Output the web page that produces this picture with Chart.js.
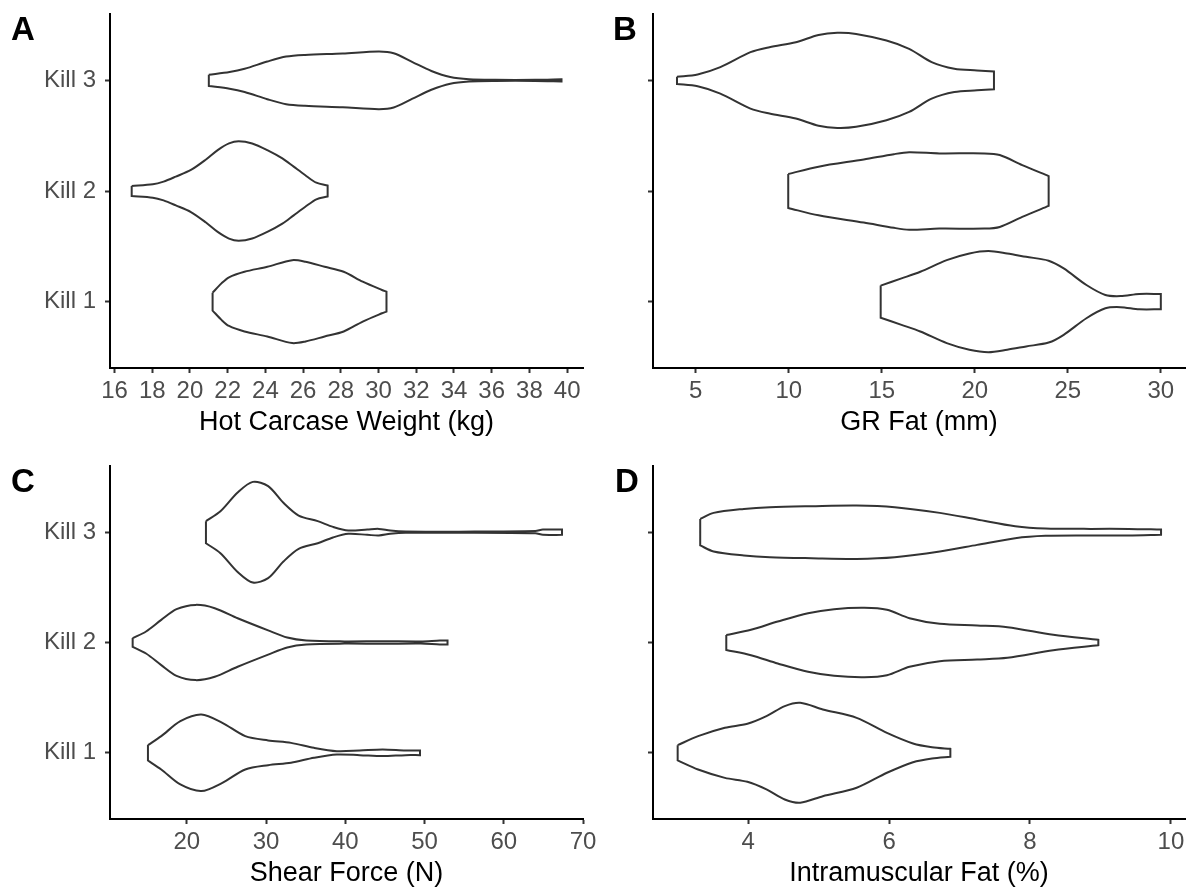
<!DOCTYPE html>
<html><head><meta charset="utf-8">
<script src="https://cdn.jsdelivr.net/npm/chart.js@4.4.1/dist/chart.umd.min.js"></script>
<style>
html,body{margin:0;padding:0;background:#fff;}
body{width:1193px;height:890px;position:relative;overflow:hidden;}
.panel{position:absolute;}
canvas{display:block;}
</style></head><body>
<div class="panel" style="left:0;top:0;width:596px;height:445px"><canvas id="cA" width="596" height="445"></canvas></div>
<div class="panel" style="left:596px;top:0;width:597px;height:445px"><canvas id="cB" width="597" height="445"></canvas></div>
<div class="panel" style="left:0;top:445px;width:596px;height:445px"><canvas id="cC" width="596" height="445"></canvas></div>
<div class="panel" style="left:596px;top:445px;width:597px;height:445px"><canvas id="cD" width="597" height="445"></canvas></div>
<script>
// ---- category labels ----
const killLabels = ['Kill 1', 'Kill 2', 'Kill 3'];

// ---- A: Hot Carcase Weight (kg) : value positions and violin half-widths ----
const hcwK1X = [21.2, 21.67, 22.07, 22.89, 24.1, 25.42, 26.13, 27.14, 28.15, 29.16, 30.18, 30.42];
const hcwK1W = [0.081, 0.165, 0.22, 0.27, 0.315, 0.375, 0.36, 0.315, 0.27, 0.18, 0.105, 0.09];
const hcwK2X = [16.91, 18.03, 18.6, 19.25, 20.05, 20.85, 21.47, 22.07, 22.58, 23.3, 24.1, 24.9, 25.5, 26.1, 26.7, 27.3];
const hcwK2W = [0.045, 0.06, 0.085, 0.13, 0.19, 0.285, 0.37, 0.43, 0.45, 0.43, 0.37, 0.295, 0.22, 0.145, 0.075, 0.05];
const hcwK3X = [21.0, 22.1, 22.9, 24.1, 25.1, 26.1, 28.1, 30.0, 30.8, 31.8, 32.8, 33.8, 34.8, 36.2, 38.3, 39.7];
const hcwK3W = [0.05, 0.075, 0.105, 0.17, 0.215, 0.23, 0.243, 0.26, 0.245, 0.165, 0.085, 0.03, 0.01, 0.005, 0.005, 0.01];
const hcwTicks = [16, 18, 20, 22, 24, 26, 28, 30, 32, 34, 36, 38, 40];

// ---- B: GR Fat (mm) ----
const grK1X = [14.94, 16.06, 17.07, 18.49, 19.71, 20.73, 21.74, 22.76, 23.97, 24.78, 26.0, 27.02, 27.83, 28.84, 30.0];
const grK1W = [0.145, 0.21, 0.27, 0.375, 0.435, 0.457, 0.435, 0.405, 0.37, 0.3, 0.15, 0.06, 0.05, 0.069, 0.069];
const grK2X = [9.97, 11.6, 14.03, 15.65, 16.47, 18.09, 20.52, 21.34, 22.55, 23.97];
const grK2W = [0.153, 0.22, 0.285, 0.333, 0.35, 0.34, 0.34, 0.325, 0.234, 0.135];
const grK3X = [3.99, 5.1, 6.32, 7.94, 8.96, 10.38, 11.6, 12.61, 13.62, 15.25, 16.47, 17.68, 18.9, 20.12, 21.03];
const grK3W = [0.033, 0.054, 0.12, 0.255, 0.3, 0.345, 0.41, 0.43, 0.42, 0.36, 0.285, 0.165, 0.105, 0.09, 0.08];
const grTicks = [5, 10, 15, 20, 25, 30];

// ---- C: Shear Force (N) ----
const sfK1X = [15.09, 16.77, 19.18, 21.83, 24.48, 27.37, 30.26, 33.15, 36.04, 38.93, 41.82, 44.71, 47.6, 49.43];
const sfK1W = [0.07, 0.151, 0.287, 0.347, 0.272, 0.151, 0.112, 0.09, 0.045, 0.015, 0.021, 0.03, 0.021, 0.021];
const sfK2X = [13.16, 14.85, 16.77, 18.7, 21.11, 23.52, 26.41, 30.26, 32.67, 35.08, 39.89, 44.71, 49.53, 51.94, 52.9];
const sfK2W = [0.04, 0.1, 0.205, 0.302, 0.341, 0.311, 0.22, 0.11, 0.045, 0.018, 0.01, 0.012, 0.01, 0.018, 0.018];
const sfK3X = [22.41, 24.24, 26.41, 28.33, 30.26, 32.19, 34.11, 36.52, 38.45, 40.38, 42.78, 44.23, 45.67, 47.6, 54.34, 63.98, 64.94, 67.35];
const sfK3W = [0.1, 0.19, 0.36, 0.456, 0.417, 0.266, 0.151, 0.1, 0.048, 0.015, 0.024, 0.03, 0.015, 0.006, 0.005, 0.01, 0.024, 0.024];
const sfTicks = [20, 30, 40, 50, 60, 70];

// ---- D: Intramuscular Fat (%) ----
const imfK1X = [3.0, 3.29, 3.67, 3.99, 4.26, 4.52, 4.74, 5.06, 5.54, 5.97, 6.34, 6.61, 6.87];
const imfK1W = [0.069, 0.151, 0.227, 0.263, 0.332, 0.423, 0.453, 0.393, 0.317, 0.181, 0.085, 0.051, 0.036];
const imfK2X = [3.69, 4.04, 4.42, 4.85, 5.22, 5.65, 5.97, 6.29, 6.72, 7.25, 7.68, 8.33, 8.97];
const imfK2W = [0.068, 0.115, 0.19, 0.266, 0.302, 0.314, 0.296, 0.22, 0.169, 0.154, 0.139, 0.07, 0.024];
const imfK3X = [3.32, 3.51, 3.94, 4.31, 4.9, 5.54, 6.08, 6.72, 7.25, 7.79, 8.22, 8.86, 9.4, 9.86];
const imfK3W = [0.12, 0.175, 0.211, 0.227, 0.236, 0.242, 0.227, 0.175, 0.115, 0.054, 0.033, 0.03, 0.03, 0.024];
const imfTicks = [4, 6, 8, 10];

const FONT = '"Liberation Sans", Arial, Helvetica, sans-serif';

// closed violin outline from value positions and half-widths around category k
function outline(xs, ws, k) {
  const pts = [];
  const n = xs.length;
  pts.push({x: xs[0], y: k + ws[0]});
  for (let i = 0; i < n; i++) pts.push({x: xs[i], y: k + ws[i]});
  pts.push({x: xs[n - 1], y: k + ws[n - 1]});
  pts.push({x: xs[n - 1], y: k - ws[n - 1]});
  for (let i = n - 1; i >= 0; i--) pts.push({x: xs[i], y: k - ws[i]});
  pts.push({x: xs[0], y: k - ws[0]});
  pts.push({x: xs[0], y: k + ws[0]});
  return pts;
}

const letterPlugin = {
  id: 'letter',
  afterDraw(chart, args, opts) {
    const ctx = chart.ctx;
    ctx.save();
    ctx.font = 'bold 33px ' + FONT;
    ctx.fillStyle = '#000';
    ctx.textBaseline = 'alphabetic';
    ctx.textAlign = 'left';
    ctx.fillText(opts.text, opts.x, opts.y);
    ctx.restore();
  }
};

function makePanel(p) {
  const datasets = p.violins.map((v, i) => ({
    data: outline(v[0], v[1], i + 1),
    showLine: true,
    borderColor: '#333333',
    borderWidth: 2,
    pointRadius: 0,
    pointHoverRadius: 0,
    fill: false,
    tension: 0.3
  }));
  new Chart(document.getElementById(p.id), {
    type: 'scatter',
    data: {datasets},
    plugins: [letterPlugin],
    options: {
      responsive: false,
      animation: false,
      events: [],
      layout: {padding: {left: 0, right: p.padR, top: p.padT, bottom: p.padB}},
      plugins: {
        legend: {display: false},
        tooltip: {enabled: false},
        letter: {text: p.letter, x: p.lx, y: p.ly}
      },
      scales: {
        x: {
          type: 'linear',
          min: p.xmin, max: p.xmax,
          afterBuildTicks: s => { s.ticks = p.ticks.map(v => ({value: v})); },
          afterFit: s => { s.height = p.xh; s.paddingLeft = 0; s.paddingRight = 0; },
          ticks: {
            color: '#4d4d4d', padding: 4, maxRotation: 0, autoSkip: false,
            font: {family: FONT, size: 24},
            callback: v => String(v)
          },
          grid: {display: true, drawOnChartArea: false, drawTicks: true, tickLength: 5, tickColor: '#333333', tickWidth: 2},
          border: {display: true, color: '#000000', width: 2},
          title: {display: true, text: p.title, color: '#000000', font: {family: FONT, size: 27}, padding: {top: 0, bottom: 0}}
        },
        y: {
          type: 'linear',
          min: 0.4, max: 3.6,
          afterBuildTicks: s => { s.ticks = [1, 2, 3].map(v => ({value: v})); },
          afterFit: s => { s.width = p.yw; s.paddingTop = 0; s.paddingBottom = 0; },
          ticks: {
            color: '#4d4d4d', padding: 9, autoSkip: false,
            font: {family: FONT, size: 24},
            callback: v => p.showY ? killLabels[Math.round(v) - 1] : ''
          },
          grid: {display: true, drawOnChartArea: false, drawTicks: true, tickLength: 5, tickColor: '#333333', tickWidth: 2},
          border: {display: true, color: '#000000', width: 2}
        }
      }
    }
  });
}

makePanel({id: 'cA', letter: 'A', lx: 11, ly: 40, showY: true, yw: 110, padR: 13, padT: 14, padB: 6, xh: 71,
  xmin: 15.76, xmax: 40.84, ticks: hcwTicks, title: 'Hot Carcase Weight (kg)',
  violins: [[hcwK1X, hcwK1W], [hcwK2X, hcwK2W], [hcwK3X, hcwK3W]]});
makePanel({id: 'cB', letter: 'B', lx: 17, ly: 40, showY: false, yw: 57, padR: 8, padT: 14, padB: 6, xh: 71,
  xmin: 2.7, xmax: 31.3, ticks: grTicks, title: 'GR Fat (mm)',
  violins: [[grK1X, grK1W], [grK2X, grK2W], [grK3X, grK3W]]});
makePanel({id: 'cC', letter: 'C', lx: 11, ly: 47, showY: true, yw: 110, padR: 13, padT: 21, padB: 0, xh: 71,
  xmin: 10.3, xmax: 70.0, ticks: sfTicks, title: 'Shear Force (N)',
  violins: [[sfK1X, sfK1W], [sfK2X, sfK2W], [sfK3X, sfK3W]]});
makePanel({id: 'cD', letter: 'D', lx: 19, ly: 47, showY: false, yw: 57, padR: 8, padT: 21, padB: 0, xh: 71,
  xmin: 2.65, xmax: 10.2, ticks: imfTicks, title: 'Intramuscular Fat (%)',
  violins: [[imfK1X, imfK1W], [imfK2X, imfK2W], [imfK3X, imfK3W]]});
</script>
</body></html>
